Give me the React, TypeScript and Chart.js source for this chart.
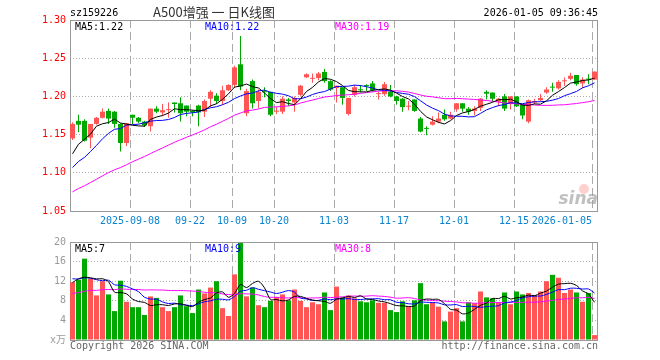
import React, { useEffect, useRef } from "react";
import { Chart, registerables } from "chart.js";

Chart.register(...registerables);

// ---------------- data ----------------
const opens = [
  1.145, 1.168, 1.168, 1.146, 1.164, 1.172, 1.181, 1.18, 1.164, 1.139,
  1.176, 1.172, 1.167, 1.161, 1.184, 1.179, 1.182, 1.192, 1.191, 1.188,
  1.181, 1.188, 1.18, 1.197, 1.201, 1.194, 1.208, 1.215, 1.242, 1.178,
  1.22, 1.194, 1.2065, 1.206, 1.18, 1.18, 1.196, 1.192, 1.202, 1.225,
  1.223, 1.224, 1.232, 1.22, 1.211, 1.212, 1.177, 1.202, 1.2085, 1.214,
  1.217, 1.203, 1.203, 1.206, 1.2, 1.197, 1.1865, 1.196, 1.171, 1.158,
  1.163, 1.167, 1.176, 1.171, 1.183, 1.191, 1.184, 1.181, 1.185, 1.206,
  1.205, 1.193, 1.2, 1.19, 1.2, 1.19, 1.167, 1.192, 1.195, 1.205,
  1.212, 1.2105, 1.2198, 1.223, 1.228, 1.217, 1.223, 1.222,
];
const highs = [
  1.166, 1.176, 1.17, 1.164, 1.173, 1.184, 1.184, 1.181, 1.165, 1.165,
  1.176, 1.173, 1.168, 1.184, 1.187, 1.19, 1.192, 1.192, 1.199, 1.188,
  1.182, 1.189, 1.196, 1.208, 1.204, 1.214, 1.216, 1.24, 1.279, 1.21,
  1.222, 1.209, 1.212, 1.206, 1.186, 1.2, 1.198, 1.2, 1.215, 1.23,
  1.23, 1.232, 1.236, 1.221, 1.214, 1.212, 1.198, 1.215, 1.215, 1.216,
  1.22, 1.206, 1.219, 1.215, 1.201, 1.198, 1.194, 1.196, 1.173, 1.161,
  1.174, 1.179, 1.183, 1.18, 1.191, 1.191, 1.186, 1.187, 1.198, 1.208,
  1.205, 1.198, 1.203, 1.2, 1.2, 1.19, 1.196, 1.197, 1.203, 1.212,
  1.218, 1.221, 1.2246, 1.231, 1.228, 1.225, 1.229, 1.2325,
];
const lows = [
  1.143, 1.153, 1.141, 1.132, 1.163, 1.171, 1.164, 1.159, 1.128, 1.135,
  1.164, 1.165, 1.16, 1.154, 1.178, 1.174, 1.172, 1.179, 1.167, 1.174,
  1.174, 1.161, 1.173, 1.186, 1.19, 1.189, 1.207, 1.211, 1.208, 1.174,
  1.184, 1.184, 1.199, 1.174, 1.177, 1.177, 1.187, 1.18, 1.2, 1.224,
  1.218, 1.221, 1.218, 1.207, 1.192, 1.189, 1.175, 1.2, 1.205, 1.207,
  1.206, 1.196, 1.201, 1.199, 1.189, 1.18, 1.182, 1.18, 1.153, 1.149,
  1.162, 1.165, 1.168, 1.17, 1.18, 1.18, 1.176, 1.175, 1.181, 1.196,
  1.193, 1.187, 1.181, 1.183, 1.186, 1.17, 1.165, 1.19, 1.194, 1.2035,
  1.206, 1.209, 1.2136, 1.221, 1.214, 1.211, 1.216, 1.2215,
];
const closes = [
  1.164, 1.163, 1.142, 1.164, 1.172, 1.18, 1.171, 1.164, 1.139, 1.165,
  1.172, 1.167, 1.162, 1.184, 1.18, 1.182, 1.183, 1.19, 1.178, 1.18,
  1.179, 1.179, 1.194, 1.206, 1.194, 1.208, 1.215, 1.238, 1.213, 1.207,
  1.191, 1.206, 1.2055, 1.176, 1.181, 1.197, 1.194, 1.198, 1.214, 1.229,
  1.224, 1.23, 1.22, 1.209, 1.214, 1.198, 1.198, 1.212, 1.208, 1.2135,
  1.208, 1.2035, 1.216, 1.2, 1.194, 1.186, 1.1875, 1.181, 1.154, 1.1575,
  1.167, 1.171, 1.17, 1.176, 1.191, 1.184, 1.18, 1.184, 1.197, 1.2035,
  1.197, 1.197, 1.184, 1.2, 1.187, 1.175, 1.195, 1.194, 1.198, 1.209,
  1.2115, 1.219, 1.2205, 1.227, 1.216, 1.222, 1.222, 1.2325,
];
// volume, unit: 万
const volumes = [
  11.8, 12.3, 16.6, 12.5, 9.1, 12.0, 9.3, 5.9, 12.1, 7.8,
  6.7, 6.7, 5.1, 8.9, 8.6, 6.7, 5.9, 6.7, 9.1, 6.9,
  5.5, 10.3, 9.5, 10.7, 12.0, 6.5, 4.9, 13.4, 19.8, 8.9,
  10.7, 7.1, 6.7, 8.0, 8.8, 9.3, 8.1, 10.3, 8.0, 6.7,
  7.7, 7.3, 9.7, 6.1, 10.9, 8.7, 9.1, 8.5, 7.9, 7.7,
  8.1, 7.6, 7.6, 6.1, 5.7, 7.9, 6.9, 8.1, 11.6, 7.3,
  7.6, 6.8, 3.8, 5.8, 6.5, 3.8, 7.7, 7.5, 9.9, 8.7,
  8.5, 7.7, 9.7, 7.3, 9.9, 9.3, 9.6, 9.1, 9.9, 12.0,
  13.3, 12.7, 9.6, 10.3, 9.7, 7.8, 9.6, 1.0,
];
// sessions before the visible window (only feed the moving averages)
const priorCloses = [
  1.031, 1.036, 1.034, 1.043, 1.047, 1.045, 1.052, 1.051, 1.056, 1.057,
  1.061, 1.06, 1.068, 1.066, 1.074, 1.072, 1.079, 1.078, 1.085, 1.087,
  1.084, 1.088, 1.087, 1.092, 1.094, 1.1, 1.11, 1.13, 1.12,
];
const priorVolumes = [
  7.2, 8.5, 6.8, 9.1, 7.5, 8.8, 6.4, 7.9, 9.6, 8.2,
  7.0, 8.3, 7.7, 9.4, 6.9, 8.6, 7.4, 9.0, 8.1, 7.6,
  12.8, 14.1, 13.6, 11.9, 14.1, 8.3, 15.1, 13.0, 10.3,
];

const dateLabels = ["2025-09-08", "09-22", "10-09", "10-20", "11-03", "11-17", "12-01", "12-15", "2026-01-05"];
const dateIndex = [10, 20, 27, 34, 44, 54, 64, 74, 87];
const priceTicks = [1.05, 1.1, 1.15, 1.2, 1.25, 1.3];
const volumeTicks = [0, 4, 8, 12, 16, 20];
const maPeriods = [5, 10, 30];
const priceMaLabels = ["MA5:1.22", "MA10:1.22", "MA30:1.19"];
const volumeMaLabels = ["MA5:7", "MA10:9", "MA30:8"];
const stockCode = "sz159226";
const chartTitle = "A500增强 一 日K线图";
const timestamp = "2026-01-05 09:36:45";
const volumeUnit = "x万";
const copyrightText = "Copyright 2026 SINA.COM";
const urlText = "http://finance.sina.com.cn";

// ---------------- styles ----------------
const MONO = '"DejaVu Sans Mono", "Liberation Mono", "Noto Sans CJK SC", monospace';
const UP = "#ff5555";
const DOWN = "#00a800";
const MA_COLORS = ["#000000", "#0000ff", "#ff00ff"];
const GRID = "#aaaaaa";
const FRAME = "#999999";
const DATE_COLOR = "#0a84d0";
const SHIFT = 5 / 12; // aligns candle slots to whole pixels

function movingAverage(prior: number[], values: number[], n: number) {
  const all = prior.concat(values);
  const off = prior.length;
  return values.map((_, i) => {
    let s = 0;
    for (let k = 0; k < n; k++) s += all[off + i - k];
    return s / n;
  });
}

const candleColors = closes.map((c, i) => (c >= opens[i] ? UP : DOWN));

function xAxis(height: number) {
  return {
    type: "linear",
    min: -SHIFT,
    max: closes.length - SHIFT,
    offset: false,
    afterBuildTicks: (s: any) => {
      s.ticks = dateIndex.map((i) => ({ value: i - SHIFT }));
    },
    afterFit: (s: any) => {
      s.height = height;
    },
    grid: { color: GRID, lineWidth: 1, drawTicks: false, offset: false },
    border: { display: false, dash: [8, 4] },
    ticks: { display: false },
  };
}

const framePlugin = {
  id: "frame",
  beforeDatasetsDraw(chart: any) {
    const a = chart.chartArea;
    const ctx = chart.ctx;
    ctx.save();
    ctx.strokeStyle = FRAME;
    ctx.lineWidth = 1;
    ctx.strokeRect(a.left + 0.5, a.top + 0.5, a.right - a.left - 1, a.bottom - a.top);
    ctx.restore();
  },
};

const watermarkPlugin = {
  id: "watermark",
  beforeDatasetsDraw(chart: any) {
    const a = chart.chartArea;
    const ctx = chart.ctx;
    ctx.save();
    ctx.fillStyle = "rgba(255,120,120,0.35)";
    ctx.beginPath();
    ctx.arc(a.right - 14, a.bottom - 22, 5, 0, Math.PI * 2);
    ctx.fill();
    ctx.fillStyle = "rgba(150,150,150,0.6)";
    ctx.font = 'italic bold 17px "DejaVu Sans", sans-serif';
    ctx.textAlign = "right";
    ctx.textBaseline = "alphabetic";
    ctx.fillText("sina", a.right, a.bottom - 7);
    ctx.restore();
  },
};

const priceTextPlugin = {
  id: "priceText",
  afterDraw(chart: any) {
    const a = chart.chartArea;
    const ctx = chart.ctx;
    const xs = chart.scales.x;
    ctx.save();
    ctx.textBaseline = "alphabetic";
    ctx.font = `10px ${MONO}`;
    ctx.fillStyle = "#000";
    ctx.textAlign = "left";
    ctx.fillText(stockCode, a.left, 16);
    ctx.textAlign = "right";
    ctx.fillText(timestamp, a.right, 16);
    ctx.font = '13px "Noto Sans CJK SC", sans-serif';
    ctx.fillStyle = "#333";
    ctx.textAlign = "center";
    ctx.fillText(chartTitle, 214, 17);
    ctx.font = `10px ${MONO}`;
    ctx.textAlign = "left";
    priceMaLabels.forEach((t, k) => {
      ctx.fillStyle = MA_COLORS[k];
      ctx.fillText(t, a.left + 5 + 130 * k, a.top + 10);
    });
    // date labels under the price panel
    ctx.fillStyle = DATE_COLOR;
    ctx.textBaseline = "middle";
    dateLabels.forEach((t, k) => {
      const px = xs.getPixelForValue(dateIndex[k] - SHIFT);
      ctx.textAlign = k === dateLabels.length - 1 ? "right" : "center";
      ctx.fillText(t, px, a.bottom + 10);
    });
    ctx.restore();
  },
};

const volumeTextPlugin = {
  id: "volumeText",
  afterDraw(chart: any) {
    const a = chart.chartArea;
    const ctx = chart.ctx;
    ctx.save();
    ctx.textBaseline = "alphabetic";
    ctx.font = `10px ${MONO}`;
    ctx.textAlign = "left";
    volumeMaLabels.forEach((t, k) => {
      ctx.fillStyle = MA_COLORS[k];
      ctx.fillText(t, a.left + 5 + 130 * k, a.top + 10);
    });
    ctx.fillStyle = "#666";
    ctx.fillText(copyrightText, a.left, a.bottom + 9);
    ctx.textAlign = "right";
    ctx.fillText(urlText, a.right, a.bottom + 9);
    ctx.restore();
  },
};

function priceConfig(): any {
  const maSets = maPeriods.map((n, k) => ({
    type: "line",
    label: "MA" + n,
    data: movingAverage(priorCloses, closes, n).map((v, i) => ({ x: i, y: v })),
    borderColor: MA_COLORS[k],
    borderWidth: 1,
    pointRadius: 0,
    tension: 0,
    order: 0,
  }));
  return {
    type: "bar",
    data: {
      datasets: [
        ...maSets,
        {
          type: "bar",
          label: "body",
          data: closes.map((c, i) => ({ x: i, y: [opens[i], c] })),
          backgroundColor: candleColors,
          barThickness: 5,
          minBarLength: 1,
          grouped: false,
          inflateAmount: 0,
          borderWidth: 0,
          order: 1,
        },
        {
          type: "bar",
          label: "wick",
          data: highs.map((h, i) => ({ x: i, y: [lows[i], h] })),
          backgroundColor: candleColors,
          barThickness: 1,
          minBarLength: 1,
          grouped: false,
          inflateAmount: 0,
          borderWidth: 0,
          order: 2,
        },
      ],
    },
    options: {
      responsive: false,
      animation: false,
      devicePixelRatio: 1,
      events: [],
      layout: { padding: { left: 0, right: 62, top: 20, bottom: 0 } },
      plugins: { legend: { display: false }, tooltip: { enabled: false } },
      scales: {
        x: xAxis(21),
        y: {
          type: "linear",
          min: 1.05,
          max: 1.3,
          afterBuildTicks: (s: any) => {
            s.ticks = priceTicks.map((v) => ({ value: v }));
          },
          afterFit: (s: any) => {
            s.width = 70;
          },
          grid: { color: GRID, drawTicks: false },
          border: { display: false, dash: [1, 2] },
          ticks: {
            color: "#ff0000",
            padding: 4,
            font: { family: MONO, size: 10 },
            callback: (v: any) => Number(v).toFixed(2),
          },
        },
      },
    },
    plugins: [framePlugin, watermarkPlugin, priceTextPlugin],
  };
}

function volumeConfig(): any {
  const maSets = maPeriods.map((n, k) => ({
    type: "line",
    label: "VMA" + n,
    data: movingAverage(priorVolumes, volumes, n).map((v, i) => ({ x: i, y: v })),
    borderColor: MA_COLORS[k],
    borderWidth: 1,
    pointRadius: 0,
    tension: 0.3,
    order: 0,
  }));
  return {
    type: "bar",
    data: {
      datasets: [
        ...maSets,
        {
          type: "bar",
          label: "volume",
          data: volumes.map((v, i) => ({ x: i, y: v })),
          backgroundColor: candleColors,
          barThickness: 5,
          grouped: false,
          inflateAmount: 0,
          borderWidth: 0,
          order: 1,
        },
      ],
    },
    options: {
      responsive: false,
      animation: false,
      devicePixelRatio: 1,
      events: [],
      layout: { padding: { left: 0, right: 62, top: 8, bottom: 0 } },
      plugins: { legend: { display: false }, tooltip: { enabled: false } },
      scales: {
        x: xAxis(20),
        y: {
          type: "linear",
          min: 0,
          max: 20,
          afterBuildTicks: (s: any) => {
            s.ticks = volumeTicks.map((v) => ({ value: v }));
          },
          afterFit: (s: any) => {
            s.width = 70;
          },
          grid: { color: GRID, drawTicks: false },
          border: { display: false, dash: [1, 2] },
          ticks: {
            color: "#999999",
            padding: 4,
            font: { family: MONO, size: 10 },
            callback: (v: any) => (Number(v) === 0 ? volumeUnit : String(v)),
          },
        },
      },
    },
    plugins: [framePlugin, volumeTextPlugin],
  };
}

export default function App() {
  const priceRef = useRef<HTMLCanvasElement>(null);
  const volRef = useRef<HTMLCanvasElement>(null);

  useEffect(() => {
    const c1 = new Chart(priceRef.current as HTMLCanvasElement, priceConfig());
    const c2 = new Chart(volRef.current as HTMLCanvasElement, volumeConfig());
    return () => {
      c1.destroy();
      c2.destroy();
    };
  }, []);

  return (
    <div style={{ position: "absolute", left: 0, top: 0, width: 660, height: 360, background: "#fff" }}>
      <canvas
        ref={priceRef}
        width={660}
        height={232}
        style={{ position: "absolute", left: 0, top: 0, width: 660, height: 232 }}
      />
      <canvas
        ref={volRef}
        width={660}
        height={128}
        style={{ position: "absolute", left: 0, top: 232, width: 660, height: 128 }}
      />
    </div>
  );
}
